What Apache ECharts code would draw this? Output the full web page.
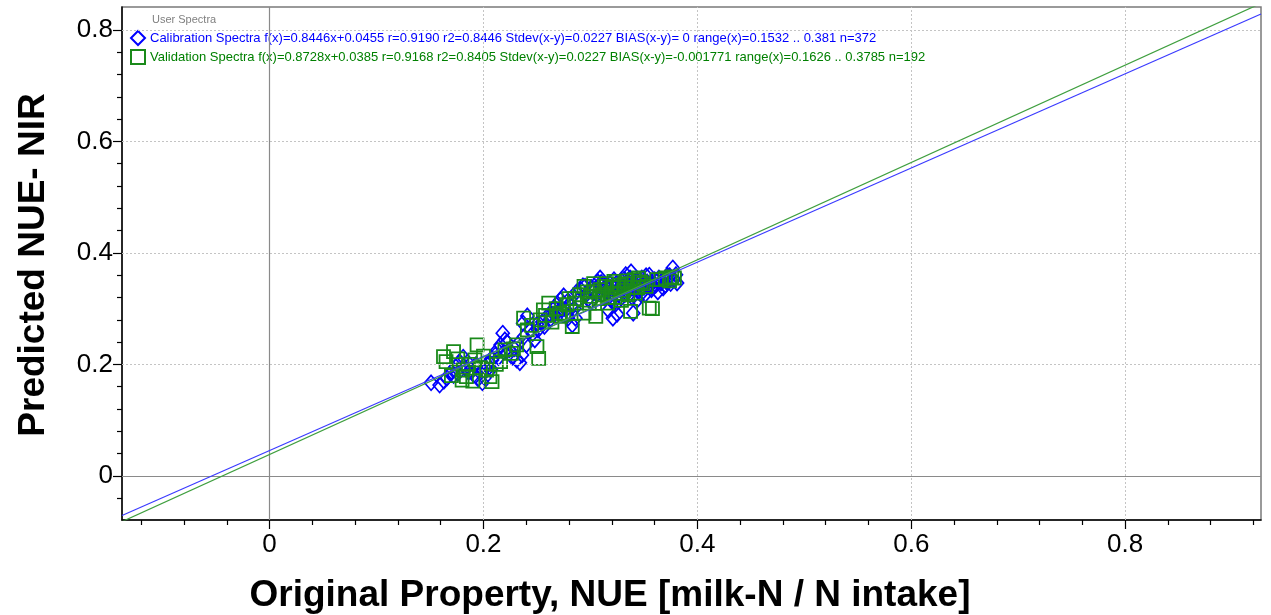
<!DOCTYPE html>
<html><head><meta charset="utf-8">
<script src="https://cdn.jsdelivr.net/npm/echarts@6/dist/echarts.min.js"></script>
<style>html,body{margin:0;padding:0;background:#fff}#c{width:1271px;height:615px}</style>
</head><body><div id="c"></div>
<script>
// ---- axis settings / ticks ----
const xRange = [-0.138, 0.927];
const yRange = [-0.079, 0.841];
const xMajorTicks = [0, 0.2, 0.4, 0.6, 0.8];
const xTickLabels = ['0', '0.2', '0.4', '0.6', '0.8'];
const yMajorTicks = [0, 0.2, 0.4, 0.6, 0.8];
const yTickLabels = ['0', '0.2', '0.4', '0.6', '0.8'];
const xMinorTicks = [-0.12, -0.08, -0.04, 0.04, 0.08, 0.12, 0.16, 0.24, 0.28, 0.32, 0.36, 0.44, 0.48, 0.52, 0.56, 0.64, 0.68, 0.72, 0.76, 0.84, 0.88, 0.92];
const yMinorTicks = [-0.04, 0.04, 0.08, 0.12, 0.16, 0.24, 0.28, 0.32, 0.36, 0.44, 0.48, 0.52, 0.56, 0.64, 0.68, 0.72, 0.76];
const xGridLines = [0.2, 0.4, 0.6, 0.8];
const yGridLines = [0.2, 0.4, 0.6, 0.8];

// ---- regression fits (from legend) ----
const calFit = { slope: 0.8446, intercept: 0.0455 };
const valFit = { slope: 0.8728, intercept: 0.0385 };

const calLabel = 'Calibration Spectra f(x)=0.8446x+0.0455 r=0.9190 r2=0.8446 Stdev(x-y)=0.0227 BIAS(x-y)= 0 range(x)=0.1532 .. 0.381 n=372';
const valLabel = 'Validation Spectra f(x)=0.8728x+0.0385 r=0.9168 r2=0.8405 Stdev(x-y)=0.0227 BIAS(x-y)=-0.001771 range(x)=0.1626 .. 0.3785 n=192';

// ---- calibration points (x, y) ----
const calibration = [
[0.151,0.167],[0.159,0.163],[0.166,0.176],[0.170,0.187],[0.174,0.196],[0.178,0.204],[0.181,0.213],[0.185,0.204],
[0.188,0.190],[0.191,0.181],[0.195,0.174],[0.199,0.167],[0.201,0.176],[0.203,0.190],[0.204,0.199],[0.208,0.208],
[0.211,0.217],[0.213,0.226],[0.216,0.235],[0.218,0.256],[0.220,0.244],[0.224,0.226],[0.227,0.213],[0.231,0.208],
[0.234,0.203],[0.236,0.217],[0.240,0.235],[0.237,0.274],[0.241,0.287],[0.244,0.262],[0.248,0.244],[0.251,0.262],
[0.255,0.276],[0.259,0.285],[0.263,0.289],[0.265,0.298],[0.268,0.307],[0.272,0.316],[0.275,0.323],[0.277,0.298],
[0.279,0.283],[0.283,0.271],[0.286,0.283],[0.289,0.316],[0.291,0.334],[0.293,0.341],[0.296,0.325],[0.300,0.312],
[0.304,0.334],[0.307,0.348],[0.309,0.355],[0.312,0.343],[0.315,0.330],[0.319,0.316],[0.321,0.283],[0.323,0.307],
[0.326,0.325],[0.328,0.337],[0.331,0.352],[0.333,0.361],[0.336,0.346],[0.338,0.366],[0.341,0.334],[0.344,0.316],
[0.347,0.326],[0.349,0.346],[0.352,0.359],[0.354,0.341],[0.357,0.334],[0.360,0.352],[0.363,0.330],[0.366,0.346],
[0.368,0.337],[0.371,0.348],[0.374,0.359],[0.377,0.373],[0.380,0.361],[0.381,0.346],
[0.295,0.340],[0.302,0.330],[0.318,0.345],[0.322,0.352],[0.330,0.340],[0.335,0.330],[0.343,0.350],[0.350,0.338],
[0.356,0.345],[0.362,0.350],[0.285,0.300],[0.270,0.295],[0.262,0.280],[0.250,0.272],[0.232,0.236],[0.222,0.240],
[0.205,0.205],[0.193,0.200],[0.183,0.194],[0.176,0.184],[0.317,0.297],[0.325,0.290],[0.340,0.292],
[0.298,0.318],[0.301,0.338],[0.306,0.325],[0.310,0.347],[0.313,0.322],[0.316,0.338],[0.320,0.330],[0.324,0.345],
[0.327,0.315],[0.329,0.350],[0.332,0.325],[0.334,0.342],[0.337,0.355],[0.339,0.320],[0.342,0.345],[0.345,0.330],
[0.348,0.355],[0.351,0.325],[0.353,0.348],[0.355,0.360],[0.358,0.340],[0.361,0.342],[0.364,0.355],[0.367,0.350],
[0.370,0.342],[0.372,0.360],[0.375,0.345],[0.378,0.352],[0.287,0.330],[0.282,0.305],[0.278,0.312],[0.273,0.300],
[0.266,0.290],[0.257,0.268],[0.246,0.255],[0.238,0.250],[0.229,0.228],[0.219,0.222],[0.214,0.212],[0.207,0.192],
[0.197,0.185],[0.186,0.186],[0.172,0.180],[0.163,0.170]
];

// ---- validation points (x, y) ----
const validation = [
[0.1626,0.214],[0.172,0.223],[0.194,0.235],[0.192,0.208],[0.181,0.190],[0.197,0.194],[0.206,0.178],[0.208,0.169],
[0.180,0.172],[0.220,0.226],[0.231,0.235],[0.250,0.232],[0.2516,0.211],[0.2375,0.283],[0.256,0.298],[0.261,0.310],
[0.272,0.286],[0.278,0.307],[0.283,0.268],[0.294,0.340],[0.294,0.292],[0.305,0.286],[0.300,0.322],[0.309,0.334],
[0.319,0.328],[0.328,0.328],[0.341,0.352],[0.3375,0.295],[0.355,0.301],[0.370,0.355],[0.3785,0.355],[0.316,0.310],
[0.322,0.349],[0.186,0.200],[0.200,0.215],[0.212,0.200],[0.226,0.220],[0.245,0.270],[0.258,0.288],[0.268,0.300],
[0.275,0.290],[0.287,0.310],[0.297,0.330],[0.303,0.345],[0.313,0.340],[0.318,0.320],[0.325,0.338],[0.332,0.345],
[0.335,0.325],[0.344,0.338],[0.349,0.345],[0.362,0.352],[0.374,0.350],[0.165,0.205],[0.170,0.180],[0.190,0.170],
[0.264,0.276],[0.280,0.318],[0.290,0.325],[0.308,0.318],[0.329,0.315],[0.345,0.355],[0.358,0.300],
[0.299,0.310],[0.304,0.330],[0.311,0.325],[0.315,0.345],[0.320,0.338],[0.323,0.320],[0.327,0.342],[0.331,0.333],
[0.334,0.350],[0.338,0.338],[0.342,0.328],[0.347,0.348],[0.352,0.340],[0.366,0.352],[0.376,0.357],[0.285,0.318],
[0.271,0.292],[0.253,0.280],[0.241,0.262],[0.228,0.228],[0.216,0.205],[0.203,0.190],[0.184,0.178],[0.176,0.210]
];

const fitLine = f => xRange.map(x => [x, f.slope * x + f.intercept]);

const labelFromValue = (ticks, labels) => v => {
  for (let i = 0; i < ticks.length; i++) if (Math.abs(ticks[i] - v) < 1e-9) return labels[i];
  return '';
};

const FONT = 'Liberation Sans, Arial, sans-serif';
const blue = '#0000ff', green = '#1a8a1a';

const chart = echarts.init(document.getElementById('c'), null, { renderer: 'canvas' });
chart.setOption({
  animation: false,
  backgroundColor: '#fff',
  grid: { left: 122, right: 10, top: 7, bottom: 95, show: true, borderColor: '#7a7a7a', borderWidth: 1.5, backgroundColor: 'transparent' },
  legend: {
    orient: 'vertical', left: 130, top: 30, padding: 0, itemGap: 3, itemWidth: 14, itemHeight: 14,
    textStyle: { fontFamily: FONT, fontSize: 13 },
    data: [
      { name: calLabel, textStyle: { color: blue } },
      { name: valLabel, textStyle: { color: '#008000' } }
    ],
    selectedMode: false
  },
  xAxis: [
    { type: 'value', min: xRange[0], max: xRange[1], position: 'bottom',
      axisLine: { show: true, onZero: false, lineStyle: { color: '#000', width: 1.5 } },
      axisTick: { show: true, customValues: xMajorTicks, length: 9, lineStyle: { color: '#000', width: 1.2 } },
      axisLabel: { customValues: xMajorTicks, formatter: labelFromValue(xMajorTicks, xTickLabels), margin: 12,
        fontFamily: FONT, fontSize: 26, color: '#000' },
      splitLine: { show: false }, minorTick: { show: false } },
    { type: 'value', min: xRange[0], max: xRange[1], position: 'bottom',
      axisLine: { show: false, onZero: false },
      axisTick: { show: true, customValues: xMinorTicks, length: 5, lineStyle: { color: '#000', width: 1.2 } },
      axisLabel: { show: false }, splitLine: { show: false } }
  ],
  yAxis: [
    { type: 'value', min: yRange[0], max: yRange[1], position: 'left',
      axisLine: { show: true, onZero: false, lineStyle: { color: '#000', width: 1.5 } },
      axisTick: { show: true, customValues: yMajorTicks, length: 9, lineStyle: { color: '#000', width: 1.2 } },
      axisLabel: { customValues: yMajorTicks, formatter: labelFromValue(yMajorTicks, yTickLabels), margin: 9,
        fontFamily: FONT, fontSize: 26, color: '#000' },
      splitLine: { show: false } },
    { type: 'value', min: yRange[0], max: yRange[1], position: 'left',
      axisLine: { show: false, onZero: false },
      axisTick: { show: true, customValues: yMinorTicks, length: 5, lineStyle: { color: '#000', width: 1.2 } },
      axisLabel: { show: false }, splitLine: { show: false } }
  ],
  graphic: [
    { type: 'text', left: 152, top: 14, style: { text: 'User Spectra', font: '11px ' + FONT, fill: '#808080' } },
    { type: 'text', x: 610, y: 596, style: { text: 'Original Property, NUE [milk-N / N intake]',
      font: 'bold 37px ' + FONT, fill: '#000', textAlign: 'center', textVerticalAlign: 'middle' } },
    { type: 'text', x: 34, y: 265, rotation: Math.PI / 2, style: { text: 'Predicted NUE- NIR',
      font: 'bold 37px ' + FONT, fill: '#000', textAlign: 'center', textVerticalAlign: 'middle' } }
  ],
  series: [
    { type: 'scatter', name: 'grid', data: [], z: 1, silent: true,
      markLine: { silent: true, symbol: ['none', 'none'], label: { show: false }, animation: false,
        data: [
          ...xGridLines.map(v => ({ xAxis: v, lineStyle: { color: '#c4c4c4', type: [2, 2], width: 1 } })),
          ...yGridLines.map(v => ({ yAxis: v, lineStyle: { color: '#c4c4c4', type: [2, 2], width: 1 } })),
          { xAxis: 0, lineStyle: { color: '#8a8a8a', type: 'solid', width: 1.2 } },
          { yAxis: 0, lineStyle: { color: '#8a8a8a', type: 'solid', width: 1.2 } }
        ] } },
    { type: 'scatter', name: calLabel, data: calibration, symbol: 'diamond', symbolSize: [13, 15], z: 3,
      itemStyle: { color: 'rgba(0,0,0,0)', borderColor: blue, borderWidth: 1.7, opacity: 1 } },
    { type: 'scatter', name: valLabel, data: validation, symbol: 'rect', symbolSize: [13, 13], z: 4,
      itemStyle: { color: 'rgba(0,0,0,0)', borderColor: green, borderWidth: 1.8, opacity: 1 } },
    { type: 'line', name: 'calFit', data: fitLine(calFit), showSymbol: false, symbol: 'none', z: 5, clip: true,
      lineStyle: { color: '#3a3aff', width: 1.2 } },
    { type: 'line', name: 'valFit', data: fitLine(valFit), showSymbol: false, symbol: 'none', z: 5, clip: true,
      lineStyle: { color: '#3f9f3f', width: 1.2 } }
  ]
});
</script>
</body></html>
